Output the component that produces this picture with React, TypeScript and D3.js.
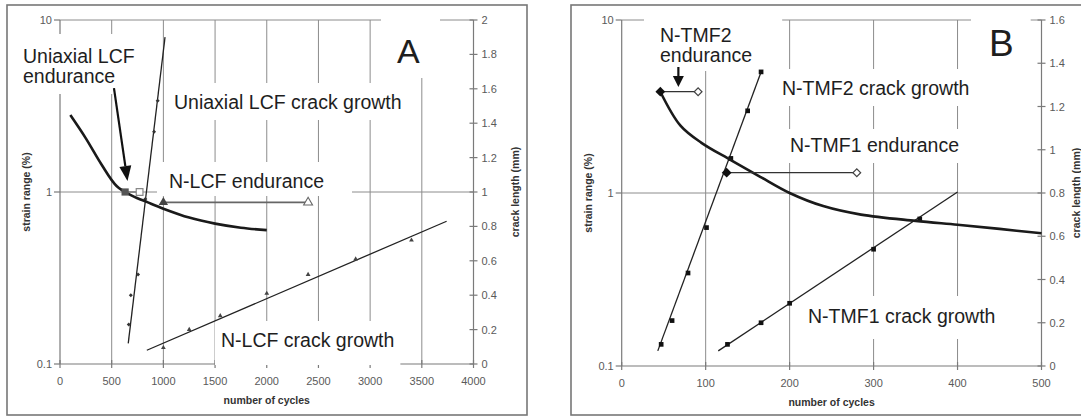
import React, { useEffect, useRef } from 'react';
import * as d3 from 'd3';

// ---------- shared ----------
const strainTicks = [0.1, 1, 10];

// ---------- panel A (LCF) ----------
const aCycleTicks = [0, 500, 1000, 1500, 2000, 2500, 3000, 3500, 4000];
const aLengthTicks = [0, 0.2, 0.4, 0.6, 0.8, 1, 1.2, 1.4, 1.6, 1.8, 2];

// strain range vs cycles (thick curve)
const aCurveN = [100, 250, 400, 550, 700, 850, 1000, 1250, 1500, 1750, 2000];
const aCurveStrain = [2.8, 2.05, 1.45, 1.08, 0.95, 0.87, 0.8, 0.71, 0.655, 0.62, 0.6];

// endurance markers: filled = start, open = end
const uniEndN = [630, 770];
const uniEndStrain = [1.0, 1.0];
const nlcfEndN = [1000, 2400];
const nlcfEndStrain = [0.87, 0.87];

// crack length (mm)
const uniCrackN = [665, 685, 755, 825, 910, 945];
const uniCrackMm = [0.23, 0.4, 0.52, 0.96, 1.35, 1.53];
const uniFitN = [660, 1016];
const uniFitMm = [0.12, 1.9];

const nlcfCrackN = [1000, 1250, 1550, 2000, 2400, 2860, 3400];
const nlcfCrackMm = [0.095, 0.2, 0.28, 0.41, 0.52, 0.61, 0.72];
const nlcfFitN = [840, 3740];
const nlcfFitMm = [0.08, 0.83];

// ---------- panel B (TMF) ----------
const bCycleTicks = [0, 100, 200, 300, 400, 500];
const bLengthTicks = [0, 0.2, 0.4, 0.6, 0.8, 1, 1.2, 1.4, 1.6];

const bCurveN = [46, 70, 95, 130, 165, 200, 240, 285, 350, 400, 450, 500];
const bCurveStrain = [3.85, 2.45, 1.95, 1.55, 1.24, 1.0, 0.84, 0.75, 0.69, 0.655, 0.62, 0.585];

const tmf2EndN = [46, 91];
const tmf2EndStrain = [3.85, 3.85];
const tmf1EndN = [125, 280];
const tmf1EndStrain = [1.31, 1.31];

const tmf2CrackN = [47, 60, 79, 101, 130, 150, 166];
const tmf2CrackMm = [0.1, 0.21, 0.43, 0.64, 0.96, 1.18, 1.36];
const tmf2FitN = [43, 166];
const tmf2FitMm = [0.07, 1.36];

const tmf1CrackN = [126, 166, 200, 300, 355];
const tmf1CrackMm = [0.1, 0.2, 0.29, 0.54, 0.68];
const tmf1FitN = [115, 400];
const tmf1FitMm = [0.07, 0.805];

const FONT = '"Liberation Sans", Arial, sans-serif';
const fmt = d3.format('.1~f');

const zip = (a: number[], b: number[]) => a.map((v, i) => [v, b[i]] as [number, number]);

function addLabel(g: any, lines: string[], x: number, y: number, size = 19.5, pad = [6, 8, 6, 7], lh = 20) {
  const box = g.append('rect').attr('fill', '#fff');
  const t = g.append('text')
    .style('font-family', FONT)
    .style('font-size', `${size}px`)
    .attr('fill', '#1e1e1e');
  lines.forEach((s, i) => t.append('tspan').attr('x', x).attr('y', y + i * lh).text(s));
  const bb = t.node().getBBox();
  box.attr('x', bb.x - pad[0]).attr('y', bb.y - pad[1])
    .attr('width', bb.width + pad[0] + pad[2]).attr('height', bb.height + pad[1] + pad[3]);
}

function arrow(g: any, from: [number, number], to: [number, number], headLen: number, headW: number, w: number) {
  const dx = to[0] - from[0], dy = to[1] - from[1];
  const L = Math.hypot(dx, dy);
  const ux = dx / L, uy = dy / L;
  const bx = to[0] - ux * headLen, by = to[1] - uy * headLen;
  g.append('line').attr('x1', from[0]).attr('y1', from[1]).attr('x2', bx).attr('y2', by)
    .attr('stroke', '#111').attr('stroke-width', w);
  g.append('path')
    .attr('d', `M${to[0]},${to[1]}L${bx - uy * headW / 2},${by + ux * headW / 2}L${bx + uy * headW / 2},${by - ux * headW / 2}Z`)
    .attr('fill', '#111');
}

function drawPanel(svg: any, p: any) {
  const x = d3.scaleLinear().domain([p.cycleTicks[0], p.cycleTicks[p.cycleTicks.length - 1]]).range([p.left, p.right]);
  const y = d3.scaleLog().domain([0.1, 10]).range([p.bottom, p.top]);
  const yr = d3.scaleLinear().domain([0, p.lengthTicks[p.lengthTicks.length - 1]]).range([p.bottom, p.top]);
  const g = svg.append('g');

  // frame
  g.append('rect').attr('x', p.frame[0]).attr('y', p.frame[1]).attr('width', p.frame[2]).attr('height', p.frame[3])
    .attr('fill', '#fff').attr('stroke', '#777').attr('stroke-width', 1.6);

  // gridlines
  const grid = g.append('g').attr('stroke', '#8c8c8c').attr('stroke-width', 1);
  grid.selectAll('.v').data(p.cycleTicks.slice(1, -1)).join('line').attr('class', 'v')
    .attr('x1', (d: number) => x(d)).attr('x2', (d: number) => x(d)).attr('y1', p.top).attr('y2', p.bottom);
  grid.selectAll('.h').data(strainTicks.slice(1)).join('line').attr('class', 'h')
    .attr('x1', p.left).attr('x2', p.right).attr('y1', (d: number) => y(d)).attr('y2', (d: number) => y(d));

  // axes
  const ax = g.append('g').attr('stroke', '#7a7a7a').attr('stroke-width', 1.2);
  ax.append('line').attr('x1', p.left).attr('x2', p.left).attr('y1', p.top).attr('y2', p.bottom);
  ax.append('line').attr('x1', p.right).attr('x2', p.right).attr('y1', p.top).attr('y2', p.bottom);
  ax.append('line').attr('x1', p.left).attr('x2', p.right).attr('y1', p.bottom).attr('y2', p.bottom);
  ax.selectAll('.lt').data(strainTicks).join('line').attr('class', 'lt')
    .attr('x1', p.left - 6).attr('x2', p.left).attr('y1', (d: number) => y(d)).attr('y2', (d: number) => y(d));
  ax.selectAll('.rt').data(p.lengthTicks).join('line').attr('class', 'rt')
    .attr('x1', p.right - 4).attr('x2', p.right + 4).attr('y1', (d: number) => yr(d)).attr('y2', (d: number) => yr(d));
  ax.selectAll('.bt').data(p.cycleTicks).join('line').attr('class', 'bt')
    .attr('x1', (d: number) => x(d)).attr('x2', (d: number) => x(d)).attr('y1', p.bottom - 4).attr('y2', p.bottom + 4);

  const tl = g.append('g').style('font-family', FONT).style('font-size', '11px').attr('fill', '#5a5a5a');
  tl.selectAll('.ll').data(strainTicks).join('text').attr('class', 'll')
    .attr('x', p.left - 8).attr('y', (d: number) => y(d) + 4).attr('text-anchor', 'end').text((d: number) => String(d));
  tl.selectAll('.rl').data(p.lengthTicks).join('text').attr('class', 'rl')
    .attr('x', p.right + 8).attr('y', (d: number) => yr(d) + 4).text((d: number) => fmt(d));
  tl.selectAll('.bl').data(p.cycleTicks).join('text').attr('class', 'bl')
    .attr('x', (d: number) => x(d)).attr('y', p.bottom + 21).attr('text-anchor', 'middle').text((d: number) => String(d));

  // axis titles
  const tt = g.append('g').style('font-family', FONT).style('font-size', '10.5px').style('font-weight', 'bold').attr('fill', '#333');
  tt.append('text').attr('transform', `translate(${p.leftTitleX},${(p.top + p.bottom) / 2}) rotate(-90)`)
    .attr('text-anchor', 'middle').text('strain range (%)');
  tt.append('text').attr('transform', `translate(${p.rightTitleX},${(p.top + p.bottom) / 2}) rotate(-90)`)
    .attr('text-anchor', 'middle').text('crack length (mm)');
  tt.append('text').attr('x', (p.left + p.right) / 2).attr('y', p.bottom + 40).attr('text-anchor', 'middle').text('number of cycles');

  // text labels with white boxes
  const lab = g.append('g');
  p.labels.forEach((l: any) => addLabel(lab, l.lines, l.x, l.y, l.size, l.pad));

  return { g, x, y, yr };
}

function App() {
  const ref = useRef<SVGSVGElement | null>(null);

  useEffect(() => {
    const svg = d3.select(ref.current);
    svg.selectAll('*').remove();
    svg.append('rect').attr('width', 1081).attr('height', 417).attr('fill', '#fff');

    const sym = (type: any, size: number) => d3.symbol().type(type).size(size)();

    // ===== panel A =====
    const A = drawPanel(svg, {
      frame: [7, 5, 520, 410], left: 60, right: 473.5, top: 20, bottom: 364,
      cycleTicks: aCycleTicks, lengthTicks: aLengthTicks, leftTitleX: 29.5, rightTitleX: 519,
      labels: [
        { lines: ['Uniaxial LCF', 'endurance'], x: 23, y: 63, pad: [5, 11, 8, 7] },
        { lines: ['Uniaxial LCF crack growth'], x: 174, y: 109 },
        { lines: ['N-LCF endurance'], x: 169, y: 188, pad: [12, 8, 28, 4] },
        { lines: ['N-LCF crack growth'], x: 221, y: 347, pad: [6, 8, 6, 14] },
        { lines: ['A'], x: 397, y: 63, size: 34, pad: [16, 14, 20, 8] },
      ],
    });
    {
      const { g, x, y, yr } = A;
      const line = d3.line<[number, number]>().x((d) => x(d[0])).y((d) => y(d[1])).curve(d3.curveCatmullRom.alpha(0.5));
      const lineR = d3.line<[number, number]>().x((d) => x(d[0])).y((d) => yr(d[1]));

      g.append('path').attr('d', lineR(zip(uniFitN, uniFitMm))).attr('fill', 'none').attr('stroke', '#222').attr('stroke-width', 1.3);
      g.append('path').attr('d', lineR(zip(nlcfFitN, nlcfFitMm))).attr('fill', 'none').attr('stroke', '#222').attr('stroke-width', 1.3);
      g.selectAll('.uc').data(zip(uniCrackN, uniCrackMm)).join('path').attr('class', 'uc')
        .attr('transform', (d: any) => `translate(${x(d[0])},${yr(d[1])}) rotate(45)`)
        .attr('d', sym(d3.symbolSquare, 8)).attr('fill', '#333');
      g.selectAll('.nc').data(zip(nlcfCrackN, nlcfCrackMm)).join('path').attr('class', 'nc')
        .attr('transform', (d: any) => `translate(${x(d[0])},${yr(d[1])})`)
        .attr('d', sym(d3.symbolTriangle, 10)).attr('fill', '#444');

      g.append('path').attr('d', line(zip(aCurveN, aCurveStrain))).attr('fill', 'none').attr('stroke', '#1a1a1a').attr('stroke-width', 2.6);

      g.append('path').attr('d', d3.line()(zip(uniEndN, uniEndStrain).map((d) => [x(d[0]), y(d[1])]) as any))
        .attr('stroke', '#777').attr('stroke-width', 1.5);
      g.append('path').attr('transform', `translate(${x(uniEndN[0])},${y(uniEndStrain[0])})`).attr('d', sym(d3.symbolSquare, 52)).attr('fill', '#555');
      g.append('path').attr('transform', `translate(${x(uniEndN[1])},${y(uniEndStrain[1])})`).attr('d', sym(d3.symbolSquare, 45))
        .attr('fill', '#fff').attr('stroke', '#888').attr('stroke-width', 1.2);

      g.append('path').attr('d', d3.line()(zip(nlcfEndN, nlcfEndStrain).map((d) => [x(d[0]), y(d[1])]) as any))
        .attr('stroke', '#666').attr('stroke-width', 1.6);
      g.append('path').attr('transform', `translate(${x(nlcfEndN[0])},${y(nlcfEndStrain[0])})`).attr('d', sym(d3.symbolTriangle, 38)).attr('fill', '#444');
      g.append('path').attr('transform', `translate(${x(nlcfEndN[1])},${y(nlcfEndStrain[1])})`).attr('d', sym(d3.symbolTriangle, 34))
        .attr('fill', '#fff').attr('stroke', '#666').attr('stroke-width', 1.1);

      arrow(g, [x(522), y(4.02)], [x(653), y(1.16)], 15, 12, 2.2);
    }

    // ===== panel B =====
    const B = drawPanel(svg, {
      frame: [571, 5, 520, 410], left: 621.7, right: 1041.5, top: 20, bottom: 366,
      cycleTicks: bCycleTicks, lengthTicks: bLengthTicks, leftTitleX: 592, rightTitleX: 1079.5,
      labels: [
        { lines: ['N-TMF2', 'endurance'], x: 660, y: 42, pad: [16, 7, 30, 5] },
        { lines: ['N-TMF2 crack growth'], x: 782, y: 95 },
        { lines: ['N-TMF1 endurance'], x: 790, y: 152, pad: [6, 5, 6, 7] },
        { lines: ['N-TMF1 crack growth'], x: 808, y: 323, pad: [6, 9, 6, 12] },
        { lines: ['B'], x: 989, y: 56, size: 37, pad: [18, 5, 17, 10] },
      ],
    });
    {
      const { g, x, y, yr } = B;
      const line = d3.line<[number, number]>().x((d) => x(d[0])).y((d) => y(d[1])).curve(d3.curveCatmullRom.alpha(0.5));
      const lineR = d3.line<[number, number]>().x((d) => x(d[0])).y((d) => yr(d[1]));

      g.append('path').attr('d', lineR(zip(tmf2FitN, tmf2FitMm))).attr('fill', 'none').attr('stroke', '#222').attr('stroke-width', 1.3);
      g.append('path').attr('d', lineR(zip(tmf1FitN, tmf1FitMm))).attr('fill', 'none').attr('stroke', '#222').attr('stroke-width', 1.3);
      g.selectAll('.c2').data(zip(tmf2CrackN, tmf2CrackMm)).join('path').attr('class', 'c2')
        .attr('transform', (d: any) => `translate(${x(d[0])},${yr(d[1])})`)
        .attr('d', sym(d3.symbolSquare, 22)).attr('fill', '#111');
      g.selectAll('.c1').data(zip(tmf1CrackN, tmf1CrackMm)).join('path').attr('class', 'c1')
        .attr('transform', (d: any) => `translate(${x(d[0])},${yr(d[1])})`)
        .attr('d', sym(d3.symbolSquare, 22)).attr('fill', '#111');

      g.append('path').attr('d', line(zip(bCurveN, bCurveStrain))).attr('fill', 'none').attr('stroke', '#1a1a1a').attr('stroke-width', 2.6);

      [[tmf2EndN, tmf2EndStrain], [tmf1EndN, tmf1EndStrain]].forEach(([ns, ss]) => {
        g.append('path').attr('d', d3.line()(zip(ns, ss).map((d) => [x(d[0]), y(d[1])]) as any))
          .attr('stroke', '#333').attr('stroke-width', 1.3);
        g.append('path').attr('transform', `translate(${x(ns[0])},${y(ss[0])}) rotate(45)`).attr('d', sym(d3.symbolSquare, 48)).attr('fill', '#111');
        g.append('path').attr('transform', `translate(${x(ns[1])},${y(ss[1])}) rotate(45)`).attr('d', sym(d3.symbolSquare, 30))
          .attr('fill', '#fff').attr('stroke', '#444').attr('stroke-width', 1.2);
      });

      arrow(g, [x(67.5), y(5.35)], [x(67.5), y(4.1)], 11, 11, 2.2);
    }
  }, []);

  return (
    <svg ref={ref} width={1081} height={417} style={{ position: 'absolute', left: 0, top: 0, display: 'block' }} />
  );
}

export default App;
